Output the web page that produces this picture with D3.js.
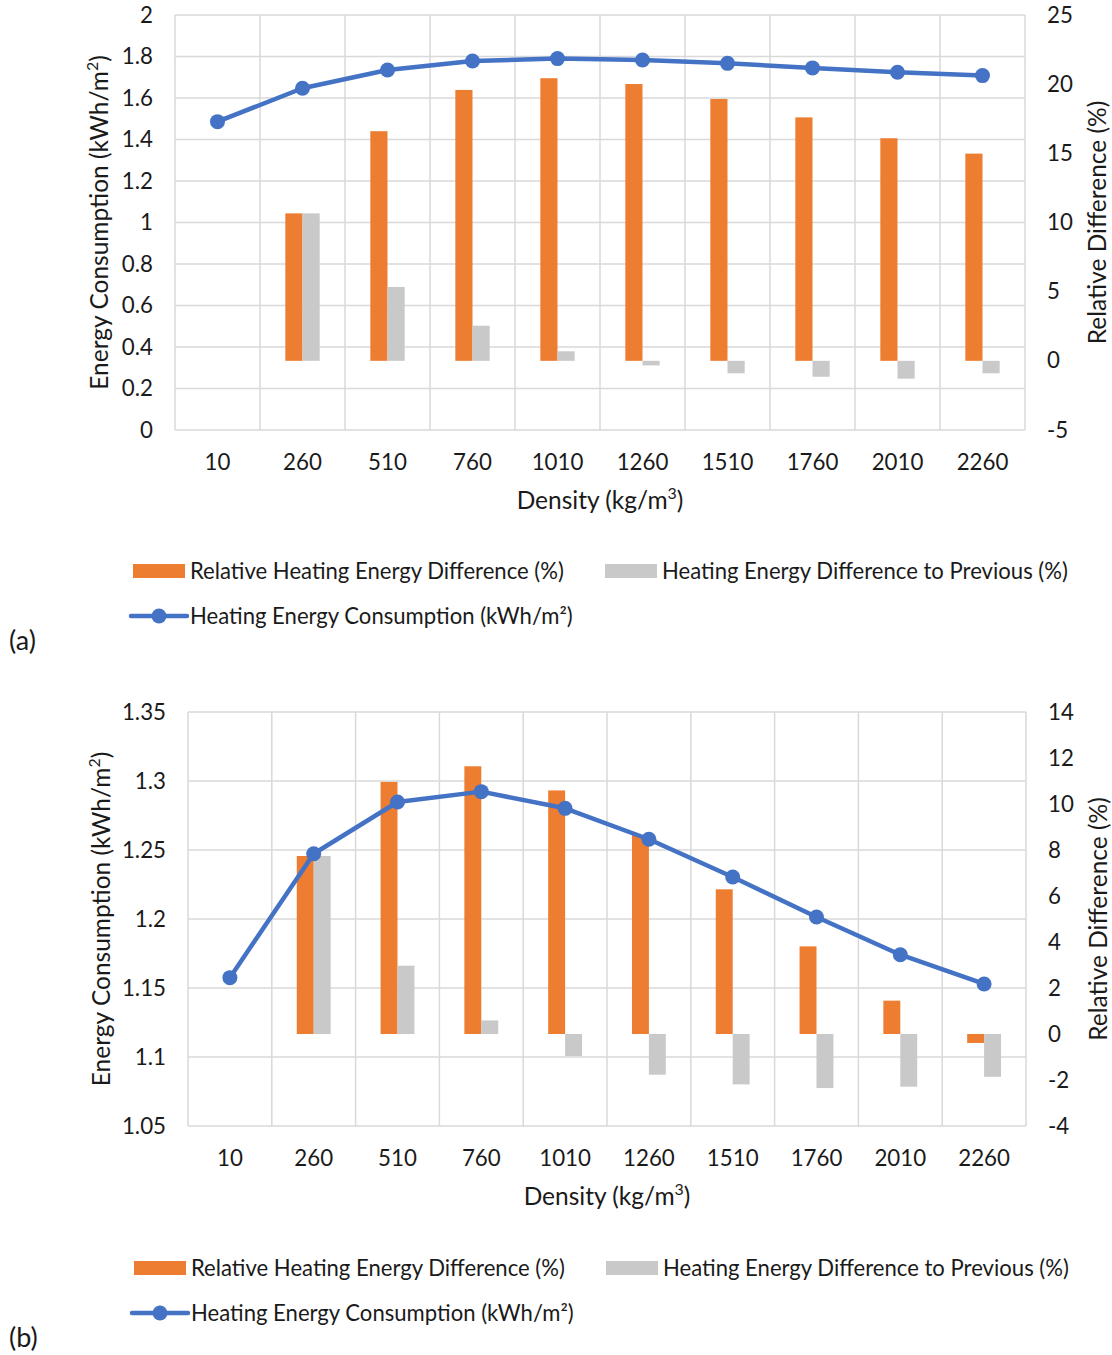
<!DOCTYPE html>
<html>
<head>
<meta charset="utf-8">
<script src="https://cdn.jsdelivr.net/npm/d3@7"></script>
<style>
  html, body { margin: 0; padding: 0; background: #ffffff; }
  svg text { font-family: Lato, "Open Sans", sans-serif; fill: #1a1a1a; }
</style>
</head>
<body>
<svg id="fig" width="1112" height="1355"></svg>
<script>
// Density categories (kg/m3)
const densities = [10, 260, 510, 760, 1010, 1260, 1510, 1760, 2010, 2260];

// Panel (a)
const consumptionA = [1.486, 1.647, 1.735, 1.778, 1.790, 1.783, 1.767, 1.745, 1.724, 1.708];
const relativeDiffA = [null, 10.66, 16.6, 19.58, 20.43, 20.01, 18.93, 17.6, 16.09, 14.98];
const previousDiffA = [null, 10.66, 5.34, 2.54, 0.69, -0.33, -0.90, -1.15, -1.29, -0.90];
const leftTicksA = [0, 0.2, 0.4, 0.6, 0.8, 1, 1.2, 1.4, 1.6, 1.8, 2];
const rightTicksA = [-5, 0, 5, 10, 15, 20, 25];

// Panel (b)
const consumptionB = [1.1575, 1.2473, 1.2848, 1.2923, 1.2802, 1.2578, 1.2304, 1.2014, 1.1741, 1.1529];
const relativeDiffB = [null, 7.74, 10.96, 11.64, 10.59, 8.65, 6.29, 3.81, 1.45, -0.39];
const previousDiffB = [null, 7.74, 2.97, 0.59, -0.96, -1.77, -2.19, -2.35, -2.29, -1.86];
const leftTicksB = [1.05, 1.1, 1.15, 1.2, 1.25, 1.3, 1.35];
const rightTicksB = [-4, -2, 0, 2, 4, 6, 8, 10, 12, 14];

const seriesNames = [
  "Relative Heating Energy Difference (%)",
  "Heating Energy Difference to Previous (%)",
  "Heating Energy Consumption (kWh/m\u00B2)"
];

const COLORS = { orange: "#ED7D31", grey: "#C9C9C9", blue: "#4472C4", grid: "#D9D9D9" };
const TICK_FONT = 22.3;
const TITLE_FONT = 24.5;
const LEGEND_FONT = 22.1;

const svg = d3.select("#fig");
svg.append("rect").attr("width", 1112).attr("height", 1355).attr("fill", "#fff");

const fmt = v => String(+v.toFixed(2));

function supTitle(sel, before, sup) {
  sel.append("tspan").text(before);
  sel.append("tspan").text(sup).attr("font-size", TITLE_FONT * 0.65).attr("dy", -10);
  sel.append("tspan").text(")").attr("dy", 10);
}

function drawPanel(cfg) {
  const g = svg.append("g");
  const x = d3.scaleBand().domain(densities).range([cfg.left, cfg.right]).padding(0);
  const yL = d3.scaleLinear().domain(cfg.leftDomain).range([cfg.bottom, cfg.top]);
  const yR = d3.scaleLinear().domain(cfg.rightDomain).range([cfg.bottom, cfg.top]);
  const bw = x.bandwidth() * 0.202;
  const cx = d => x(d) + x.bandwidth() / 2;

  // gridlines
  g.append("g").selectAll("line").data(cfg.leftTicks).join("line")
    .attr("x1", cfg.left).attr("x2", cfg.right)
    .attr("y1", d => yL(d)).attr("y2", d => yL(d))
    .attr("stroke", COLORS.grid).attr("stroke-width", 1.5);
  const bounds = densities.map(d => x(d)).concat([cfg.right]);
  g.append("g").selectAll("line").data(bounds).join("line")
    .attr("x1", d => d).attr("x2", d => d)
    .attr("y1", cfg.top).attr("y2", cfg.bottom)
    .attr("stroke", COLORS.grid).attr("stroke-width", 1.5);

  // bars
  const zero = yR(0);
  const barData = densities.map((d, i) => ({ d, rel: cfg.rel[i], prev: cfg.prev[i] }))
    .filter(o => o.rel !== null);
  g.append("g").selectAll("rect").data(barData).join("rect")
    .attr("x", o => cx(o.d) - bw).attr("width", bw)
    .attr("y", o => Math.min(yR(o.rel), zero))
    .attr("height", o => Math.abs(yR(o.rel) - zero))
    .attr("fill", COLORS.orange);
  g.append("g").selectAll("rect").data(barData).join("rect")
    .attr("x", o => cx(o.d)).attr("width", bw)
    .attr("y", o => Math.min(yR(o.prev), zero))
    .attr("height", o => Math.abs(yR(o.prev) - zero))
    .attr("fill", COLORS.grey);

  // consumption line
  const pts = densities.map((d, i) => [cx(d), yL(cfg.cons[i])]);
  g.append("path").attr("d", d3.line()(pts))
    .attr("fill", "none").attr("stroke", COLORS.blue).attr("stroke-width", 4.5)
    .attr("stroke-linejoin", "round").attr("stroke-linecap", "round");
  g.append("g").selectAll("circle").data(pts).join("circle")
    .attr("cx", p => p[0]).attr("cy", p => p[1]).attr("r", 7.5)
    .attr("fill", COLORS.blue);

  // axes
  const axL = d3.axisLeft(yL).tickValues(cfg.leftTicks).tickFormat(fmt).tickSize(0).tickPadding(22);
  const aL = g.append("g").attr("transform", `translate(${cfg.left},0)`).call(axL);
  const axR = d3.axisRight(yR).tickValues(cfg.rightTicks).tickFormat(fmt).tickSize(0).tickPadding(22);
  const aR = g.append("g").attr("transform", `translate(${cfg.right},0)`).call(axR);
  const axB = d3.axisBottom(x).tickSize(0).tickPadding(24);
  const aB = g.append("g").attr("transform", `translate(0,${cfg.bottom})`).call(axB);
  [aL, aR, aB].forEach(a => {
    a.select(".domain").remove();
    a.attr("font-family", null).attr("font-size", null);
    a.selectAll("text").attr("font-size", TICK_FONT).attr("fill", "#1a1a1a");
  });

  // axis titles
  const midY = (cfg.top + cfg.bottom) / 2;
  const tl = g.append("text")
    .attr("transform", `translate(${cfg.leftTitleX},${midY}) rotate(-90)`)
    .attr("text-anchor", "middle").attr("dy", "0.35em").attr("font-size", TITLE_FONT);
  supTitle(tl, "Energy Consumption (kWh/m", "2");

  g.append("text")
    .attr("transform", `translate(${cfg.rightTitleX},${midY}) rotate(-90)`)
    .attr("text-anchor", "middle").attr("dy", "0.35em").attr("font-size", TITLE_FONT)
    .text("Relative Difference (%)");

  const tb = g.append("text")
    .attr("x", (cfg.left + cfg.right) / 2).attr("y", cfg.bottom + 70)
    .attr("text-anchor", "middle").attr("dy", "0.35em").attr("font-size", TITLE_FONT);
  supTitle(tb, "Density (kg/m", "3");

  // legend
  const ly = cfg.legendY;
  const lg = g.append("g");
  lg.append("rect").attr("x", cfg.legX1).attr("y", ly - 7).attr("width", 52).attr("height", 14).attr("fill", COLORS.orange);
  lg.append("text").attr("x", cfg.legX1 + 57).attr("y", ly).attr("dy", "0.35em").attr("font-size", LEGEND_FONT).text(seriesNames[0]);
  lg.append("rect").attr("x", cfg.legX2).attr("y", ly - 7).attr("width", 52).attr("height", 14).attr("fill", COLORS.grey);
  lg.append("text").attr("x", cfg.legX2 + 57).attr("y", ly).attr("dy", "0.35em").attr("font-size", LEGEND_FONT).text(seriesNames[1]);
  const ly2 = ly + 45;
  lg.append("line").attr("x1", cfg.legX1 - 2).attr("x2", cfg.legX1 + 54).attr("y1", ly2).attr("y2", ly2)
    .attr("stroke", COLORS.blue).attr("stroke-width", 4.5).attr("stroke-linecap", "round");
  lg.append("circle").attr("cx", cfg.legX1 + 26).attr("cy", ly2).attr("r", 7.5).attr("fill", COLORS.blue);
  lg.append("text").attr("x", cfg.legX1 + 57).attr("y", ly2).attr("dy", "0.35em").attr("font-size", LEGEND_FONT).text(seriesNames[2]);

  // panel label
  g.append("text").attr("x", 9).attr("y", cfg.panelLabelY).attr("dy", "0.35em")
    .attr("font-size", 27).text(cfg.panelLabel);
}

drawPanel({
  left: 175, right: 1025, top: 15, bottom: 430,
  leftDomain: [0, 2], rightDomain: [-5, 25],
  leftTicks: leftTicksA, rightTicks: rightTicksA,
  cons: consumptionA, rel: relativeDiffA, prev: previousDiffA,
  leftTitleX: 99, rightTitleX: 1097,
  legendY: 571, legX1: 133, legX2: 605,
  panelLabel: "(a)", panelLabelY: 641
});

drawPanel({
  left: 188, right: 1026, top: 712, bottom: 1126,
  leftDomain: [1.05, 1.35], rightDomain: [-4, 14],
  leftTicks: leftTicksB, rightTicks: rightTicksB,
  cons: consumptionB, rel: relativeDiffB, prev: previousDiffB,
  leftTitleX: 101, rightTitleX: 1098,
  legendY: 1268, legX1: 134, legX2: 606,
  panelLabel: "(b)", panelLabelY: 1338
});
</script>
</body>
</html>
